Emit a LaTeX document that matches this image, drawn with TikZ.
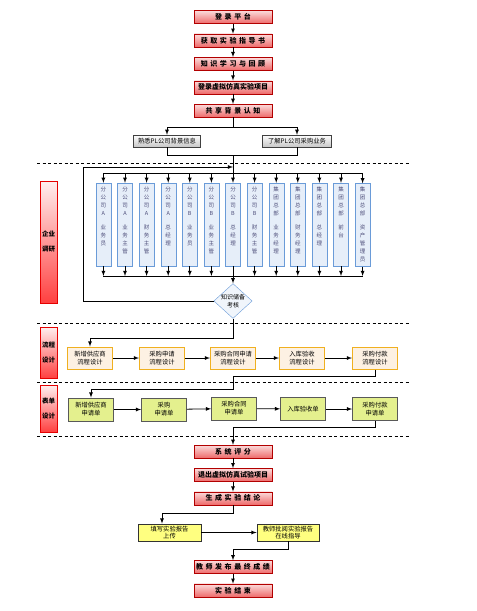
\documentclass[tikz,border=0pt]{standalone}
\usepackage{fontspec}
\setmainfont{Noto Sans CJK SC}[WordSpace=1.6]
\usetikzlibrary{shapes.geometric, arrows}

\definecolor{redtop}{HTML}{FBDCDC}
\definecolor{redbot}{HTML}{EE6B6B}
\definecolor{roleline}{HTML}{6A9BD8}
\definecolor{rolefill}{HTML}{E6EEF9}
\definecolor{flowline}{HTML}{F0B020}
\definecolor{flowfill}{HTML}{FDF1E3}
\definecolor{formfill}{HTML}{E4F08E}
\definecolor{reportfill}{HTML}{FFFF80}

\newcommand{\vtext}[1]{\parbox[c][76pt][t]{11pt}{\centering\fontsize{5.5}{8}\selectfont #1}}

\begin{document}
\begin{tikzpicture}[x=1pt, y=-1pt, node distance=23.4pt]
\tikzstyle{redbox} = [rectangle, draw=red!70!black, top color=redtop, bottom color=redbot, minimum width=78pt, minimum height=13pt, inner sep=0pt, font=\fontsize{7}{8}\selectfont\bfseries]
\tikzstyle{graybox} = [rectangle, draw=black!75, top color=white, bottom color=black!22, minimum width=67pt, minimum height=12pt, inner sep=0pt, font=\fontsize{6.3}{7}\selectfont]
\tikzstyle{sidebox} = [rectangle, draw=red!90!black, top color=red!6, bottom color=red!75, minimum width=17pt, inner sep=0pt, align=center, font=\fontsize{6.5}{15}\selectfont\bfseries]
\tikzstyle{role} = [rectangle, draw=roleline, fill=rolefill, inner xsep=2pt, inner ysep=3.5pt, text=blue!25!black!70]
\tikzstyle{check} = [diamond, draw=roleline, fill=rolefill!60, aspect=1.1, inner sep=0pt, align=center, font=\fontsize{6}{7.5}\selectfont]
\tikzstyle{flow} = [rectangle, draw=flowline, line width=1pt, fill=flowfill, minimum width=45pt, minimum height=22pt, inner sep=0pt, align=center, font=\fontsize{6.3}{8}\selectfont]
\tikzstyle{form} = [rectangle, draw=black!65, thick, fill=formfill, minimum width=45pt, minimum height=23pt, inner sep=0pt, align=center, font=\fontsize{6.3}{8}\selectfont]
\tikzstyle{report} = [rectangle, draw=black!80, thick, fill=reportfill, minimum width=63pt, minimum height=17pt, inner sep=0pt, align=center, font=\fontsize{6.3}{7.5}\selectfont]
\tikzstyle{arrow} = [thick,->,>=latex]
\tikzstyle{line} = [thick]
\tikzstyle{sep} = [thick, dash pattern=on 3pt off 2.5pt]

\useasboundingbox (0,0) rectangle (477,611);

% start
\node (login) [redbox] at (233,17) {登 录 平 台};
\node (guide) [redbox, below of=login] {获 取 实 验 指 导 书};
\node (learn) [redbox, below of=guide] {知 识 学 习 与 回 顾};
\node (enter) [redbox, below of=learn] {登录虚拟仿真实验项目};
\node (share) [redbox, below of=enter] {共 享 背 景 认 知};

\node (bg) [graybox] at (167,141) {熟悉PL公司背景信息};
\node (buy) [graybox, minimum width=69pt] at (297,141) {了解PL公司采购业务};

\draw [arrow] (login) -- (guide);
\draw [arrow] (guide) -- (learn);
\draw [arrow] (learn) -- (enter);
\draw [arrow] (enter) -- (share);

\coordinate (fork) at (233,127);
\coordinate (join) at (233,155);
\draw [line] (share) -- (fork);
\draw [arrow] (fork) -| (bg);
\draw [arrow] (fork) -| (buy);
\draw [line] (bg) |- (join);
\draw [line] (buy) |- (join);

% separators
\draw [sep] (37,163) -- (410,163);
\draw [sep] (37,323) -- (410,323);
\draw [sep] (37,382) -- (410,382);
\draw [sep] (37,436) -- (410,436);

% lanes
\node (lane1) [sidebox, minimum height=122pt] at (48.5,242) {企业\\调研};
\node (lane2) [sidebox, minimum height=51pt] at (48.5,352.5) {流程\\设计};
\node (lane3) [sidebox, minimum height=47pt] at (48.5,408.5) {表单\\设计};

% roles
\node (r1) [role] at (103.4,224.5) {\vtext{分\\公\\司\\A\\[6pt]业\\务\\员}};
\node (r2) [role] at (125,224.5) {\vtext{分\\公\\司\\A\\[6pt]业\\务\\主\\管}};
\node (r3) [role] at (146.6,224.5) {\vtext{分\\公\\司\\A\\[6pt]财\\务\\主\\管}};
\node (r4) [role] at (168.2,224.5) {\vtext{分\\公\\司\\A\\[6pt]总\\经\\理}};
\node (r5) [role] at (189.8,224.5) {\vtext{分\\公\\司\\B\\[6pt]业\\务\\员}};
\node (r6) [role] at (211.4,224.5) {\vtext{分\\公\\司\\B\\[6pt]业\\务\\主\\管}};
\node (r7) [role] at (233,224.5) {\vtext{分\\公\\司\\B\\[6pt]总\\经\\理}};
\node (r8) [role] at (254.6,224.5) {\vtext{分\\公\\司\\B\\[6pt]财\\务\\主\\管}};
\node (r9) [role] at (276.2,224.5) {\vtext{集\\团\\总\\部\\[6pt]业\\务\\经\\理}};
\node (r10) [role] at (297.8,224.5) {\vtext{集\\团\\总\\部\\[6pt]财\\务\\经\\理}};
\node (r11) [role] at (319.4,224.5) {\vtext{集\\团\\总\\部\\[6pt]总\\经\\理}};
\node (r12) [role] at (341,224.5) {\vtext{集\\团\\总\\部\\[6pt]前\\台}};
\node (r13) [role] at (362.6,225) {\vtext{集\\团\\总\\部\\[6pt]资\\产\\管\\理\\员}};

\coordinate (topbus) at (103.4,173);
\coordinate (botbus) at (103.4,276);
\draw [line] (join) -- (r7 |- topbus);
\draw [line] (topbus) -- (r13 |- topbus);
\draw [line] (botbus) -- (r13 |- botbus);

\draw [arrow] (r1 |- topbus) -- (r1);
\draw [arrow] (r2 |- topbus) -- (r2);
\draw [arrow] (r3 |- topbus) -- (r3);
\draw [arrow] (r4 |- topbus) -- (r4);
\draw [arrow] (r5 |- topbus) -- (r5);
\draw [arrow] (r6 |- topbus) -- (r6);
\draw [arrow] (r7 |- topbus) -- (r7);
\draw [arrow] (r8 |- topbus) -- (r8);
\draw [arrow] (r9 |- topbus) -- (r9);
\draw [arrow] (r10 |- topbus) -- (r10);
\draw [arrow] (r11 |- topbus) -- (r11);
\draw [arrow] (r12 |- topbus) -- (r12);
\draw [arrow] (r13 |- topbus) -- (r13);

\draw [arrow] (r1) -- (r1 |- botbus);
\draw [arrow] (r2) -- (r2 |- botbus);
\draw [arrow] (r3) -- (r3 |- botbus);
\draw [arrow] (r4) -- (r4 |- botbus);
\draw [arrow] (r5) -- (r5 |- botbus);
\draw [arrow] (r6) -- (r6 |- botbus);
\draw [arrow] (r8) -- (r8 |- botbus);
\draw [arrow] (r9) -- (r9 |- botbus);
\draw [arrow] (r10) -- (r10 |- botbus);
\draw [arrow] (r11) -- (r11 |- botbus);
\draw [arrow] (r12) -- (r12 |- botbus);
\draw [arrow] (r13) -- (r13 |- botbus);

% check
\node (check) [check] at (233,301) {知识储备\\考核};
\draw [arrow] (r7) -- (check);
\coordinate (back) at (83,167);
\coordinate (merge) at (233,167);
\draw [arrow] (check) -| (back) -- (merge);

% process design
\node (f1) [flow] at (90,358) {新增供应商\\流程设计};
\node (f2) [flow] at (162,358) {采购申请\\流程设计};
\node (f3) [flow] at (233,358) {采购合同申请\\流程设计};
\node (f4) [flow] at (302,358) {入库验收\\流程设计};
\node (f5) [flow] at (375,358) {采购付款\\流程设计};

\coordinate (c1) at (233,338);
\draw [arrow] (check) -- (c1) -| (f1);
\draw [arrow] (f1) -- (f2);
\draw [arrow] (f2) -- (f3);
\draw [arrow] (f3) -- (f4);
\draw [arrow] (f4) -- (f5);

% form design
\node (g1) [form] at (91,409.5) {新增供应商\\申请单};
\node (g2) [form] at (164,409.5) {采购\\申请单};
\node (g3) [form] at (234,408.5) {采购合同\\申请单};
\node (g4) [form] at (303,409) {入库验收单};
\node (g5) [form] at (375,409) {采购付款\\申请单};

\coordinate (c2) at (233,376);
\coordinate (c3) at (233,389);
\draw [arrow] (f5) |- (c2) -- (c3) -| (g1);
\draw [arrow] (g1) -- (g2);
\draw [arrow] (g2) -- (g3);
\draw [arrow] (g3) -- (g4);
\draw [arrow] (g4) -- (g5);

% end
\node (score) [redbox] at (233,451.5) {系 统 评 分};
\node (quit) [redbox, below of=score] {退出虚拟仿真试验项目};
\node (sum) [redbox, below of=quit] {生 成 实 验 结 论};
\node (write) [report] at (169.5,532.5) {填写实验报告\\上传};
\node (mark) [report, minimum width=62pt] at (288,532.5) {教师批阅实验报告\\在线指导};
\node (grade) [redbox] at (233,567) {教 师 发 布 最 终 成 绩};
\node (finish) [redbox, below of=grade] {实 验 结 束};

\coordinate (c4) at (233,427);
\coordinate (c5) at (162,513);
\coordinate (c6) at (233,549);
\draw [arrow] (g5) |- (c4) -- (score);
\draw [arrow] (score) -- (quit);
\draw [arrow] (quit) -- (sum);
\draw [arrow] (sum) |- (c5) -- (write.north -| c5);
\draw [arrow] (write) -- (mark);
\draw [arrow] (mark) |- (c6) -- (grade);
\draw [arrow] (grade) -- (finish);
\end{tikzpicture}
\end{document}
